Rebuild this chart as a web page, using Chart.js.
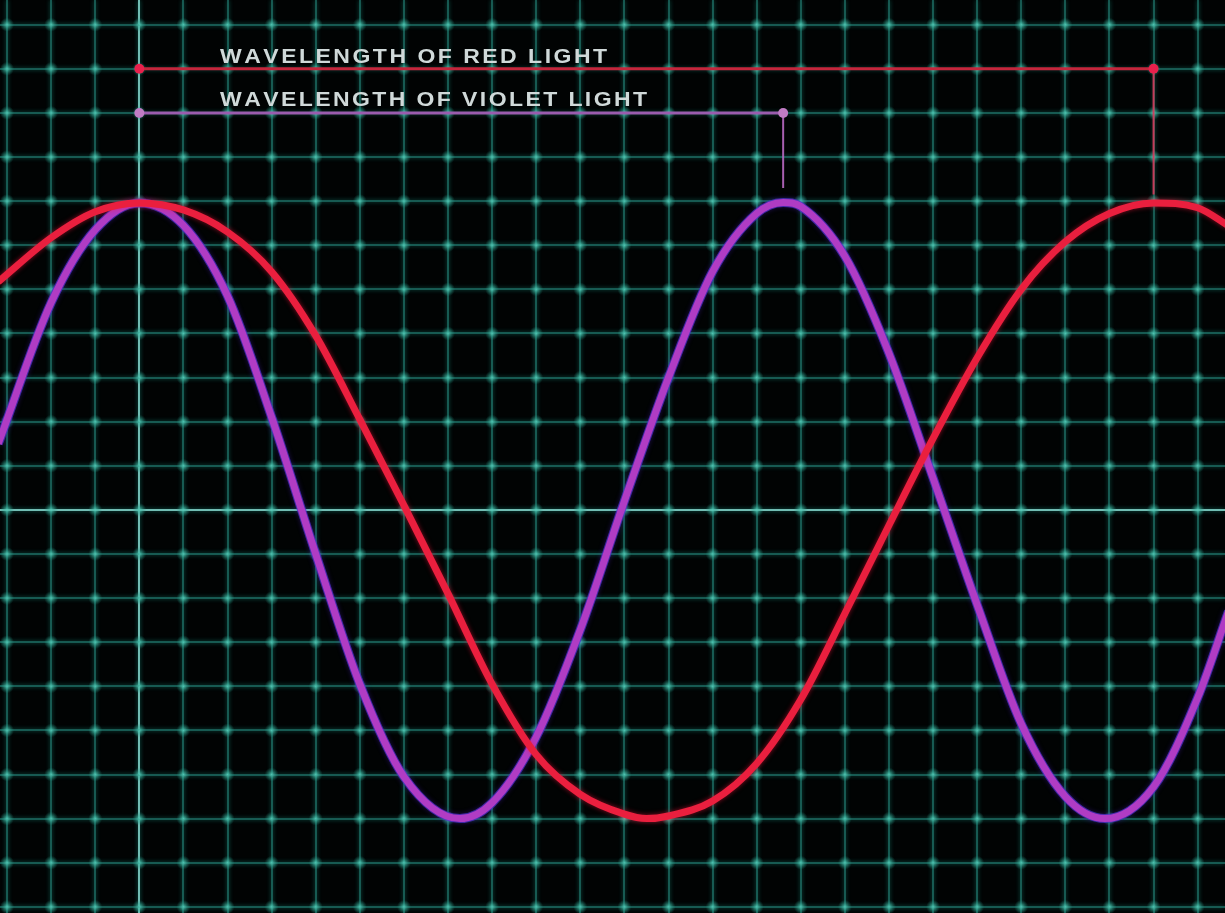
<!DOCTYPE html>
<html>
<head>
<meta charset="utf-8">
<script src="https://cdn.jsdelivr.net/npm/chart.js@4.4.1/dist/chart.umd.min.js"></script>
<style>
  html, body { margin: 0; padding: 0; background: #000; }
  #wrap { width: 1225px; height: 913px; }
</style>
</head>
<body>
<div id="wrap"><canvas id="chart"></canvas></div>
<script>
// values in grid cells: x = cells from the left crest, y = cells above the centre line
const redX = [-3.2, -2, -1, 0, 1, 2, 3, 4, 5, 6, 7, 8, 9, 10, 11, 11.5, 12, 13, 14, 15, 16, 17, 18, 19, 20, 21, 22, 23, 24, 24.7];
const redY = [5.17, 6.17, 6.76, 6.96, 6.8, 6.3, 5.4, 3.95, 2.05, 0.1, -1.9, -3.95, -5.55, -6.45, -6.9, -7.0, -6.94, -6.6, -5.75, -4.3, -2.35, -0.35, 1.62, 3.45, 5.0, 6.08, 6.72, 6.96, 6.85, 6.44];

const violetX = [-3.2, -2, -1, 0, 1, 2, 3, 4, 5, 6, 7.27, 8, 9, 10, 11, 12, 13, 14, 14.6, 15, 16, 17, 18, 19, 20, 21, 21.9, 23, 24, 24.7];
const violetY = [1.5, 4.7, 6.35, 6.96, 6.45, 4.85, 2.1, -1.0, -3.95, -6.05, -7.0, -6.64, -5.15, -2.72, 0.2, 3.0, 5.4, 6.72, 6.97, 6.88, 5.75, 3.55, 0.72, -2.15, -4.85, -6.5, -7.0, -6.28, -4.26, -2.3];

// wavelength markers
const redSpanX = [0, 23];
const redSpanY = [10, 10];
const redDropX = [23, 23];
const redDropY = [10, 7.15];
const violetSpanX = [0, 14.6];
const violetSpanY = [9, 9];
const violetDropX = [14.6, 14.6];
const violetDropY = [9, 7.3];

const labels = ['WAVELENGTH OF RED LIGHT', 'WAVELENGTH OF VIOLET LIGHT'];

const toPoints = (xs, ys) => xs.map((x, i) => ({ x, y: ys[i] }));

const gridGlow = {
  id: 'gridGlow',
  beforeDraw(chart) {
    const ctx = chart.ctx;
    ctx.save();
    ctx.fillStyle = '#010303';
    ctx.fillRect(0, 0, chart.width, chart.height);
    ctx.restore();
    ctx.shadowColor = 'rgba(30,170,150,0.7)';
    ctx.shadowBlur = 4;
  },
  beforeDatasetsDraw(chart) {
    const ctx = chart.ctx;
    ctx.shadowColor = 'rgba(0,0,0,0)';
    ctx.shadowBlur = 0;
    const xs = chart.scales.x, ys = chart.scales.y;
    ctx.save();
    xs.ticks.forEach(tx => {
      const px = xs.getPixelForValue(tx.value);
      ys.ticks.forEach(ty => {
        const py = ys.getPixelForValue(ty.value);
        const g = ctx.createRadialGradient(px, py, 0, px, py, 7);
        g.addColorStop(0, 'rgba(85,205,185,0.9)');
        g.addColorStop(0.5, 'rgba(55,170,150,0.45)');
        g.addColorStop(1, 'rgba(40,150,130,0)');
        ctx.fillStyle = g;
        ctx.fillRect(px - 7, py - 7, 14, 14);
      });
    });
    ctx.restore();
  },
  beforeDatasetDraw(chart, args) {
    const ds = chart.data.datasets[args.index];
    if (ds.glow) {
      chart.ctx.shadowColor = ds.glow;
      chart.ctx.shadowBlur = 5;
    }
  },
  afterDatasetDraw(chart) {
    chart.ctx.shadowColor = 'rgba(0,0,0,0)';
    chart.ctx.shadowBlur = 0;
  },
  afterDatasetsDraw(chart) {
    const ctx = chart.ctx;
    const xs = chart.scales.x, ys = chart.scales.y;
    const left = xs.getPixelForValue(1.83);
    const sx = 1.15;
    const rows = [
      { text: labels[0], y: ys.getPixelForValue(10) - 6, w: 387 },
      { text: labels[1], y: ys.getPixelForValue(9) - 7, w: 427 }
    ];
    ctx.save();
    ctx.font = "bold 20px 'Liberation Sans', Arial, sans-serif";
    ctx.fillStyle = '#d0d9d9';
    ctx.textBaseline = 'alphabetic';
    rows.forEach(r => {
      const chars = r.text.split('');
      const plain = chars.reduce((s, c) => s + ctx.measureText(c).width * sx, 0);
      const gap = (r.w - plain) / (chars.length - 1);
      let x = left;
      chars.forEach(c => {
        ctx.save();
        ctx.translate(x, r.y);
        ctx.scale(sx, 1);
        ctx.fillText(c, 0, 0);
        ctx.restore();
        x += ctx.measureText(c).width * sx + gap;
      });
    });
    ctx.restore();
  }
};

const gridColor = c => (c.tick && c.tick.value === 0) ? 'rgba(125,205,195,0.9)' : 'rgba(32,115,105,0.7)';

const wave = { pointRadius: 0, cubicInterpolationMode: 'monotone' };

new Chart(document.getElementById('chart'), {
  type: 'line',
  data: {
    datasets: [
      { data: toPoints(redSpanX, redSpanY), borderColor: '#c4263c', borderWidth: 3, pointRadius: 5, pointBackgroundColor: '#e8204c', pointBorderWidth: 0, tension: 0 },
      { data: toPoints(redDropX, redDropY), borderColor: 'rgba(215,55,90,0.9)', borderWidth: 2, pointRadius: 0, tension: 0 },
      { data: toPoints(violetSpanX, violetSpanY), borderColor: '#9a5cae', borderWidth: 3, pointRadius: 5, pointBackgroundColor: '#c07cc4', pointBorderWidth: 0, tension: 0 },
      { data: toPoints(violetDropX, violetDropY), borderColor: 'rgba(185,105,195,0.9)', borderWidth: 2, pointRadius: 0, tension: 0 },
      { ...wave, data: toPoints(redX, redY), borderColor: '#ea1f3e', borderWidth: 7, glow: 'rgba(255,20,60,0.55)' },
      { ...wave, data: toPoints(violetX, violetY), borderColor: '#b03cc4', borderWidth: 7 },
      { ...wave, data: toPoints(violetX, violetY), borderColor: 'rgba(80,50,205,0.75)', borderWidth: 9, glow: 'rgba(90,40,220,0.45)' }
    ]
  },
  options: {
    responsive: true,
    maintainAspectRatio: false,
    animation: false,
    events: [],
    layout: { padding: 0, autoPadding: false },
    plugins: { legend: { display: false }, tooltip: { enabled: false } },
    scales: {
      x: {
        type: 'linear', min: -3.16, max: 24.62,
        ticks: { display: false, stepSize: 1, includeBounds: false },
        grid: { color: gridColor, lineWidth: 2, drawTicks: false },
        border: { display: false }
      },
      y: {
        type: 'linear', min: -9.14, max: 11.56,
        ticks: { display: false, stepSize: 1, includeBounds: false },
        grid: { color: gridColor, lineWidth: 2, drawTicks: false },
        border: { display: false }
      }
    }
  },
  plugins: [gridGlow]
});
</script>
</body>
</html>
